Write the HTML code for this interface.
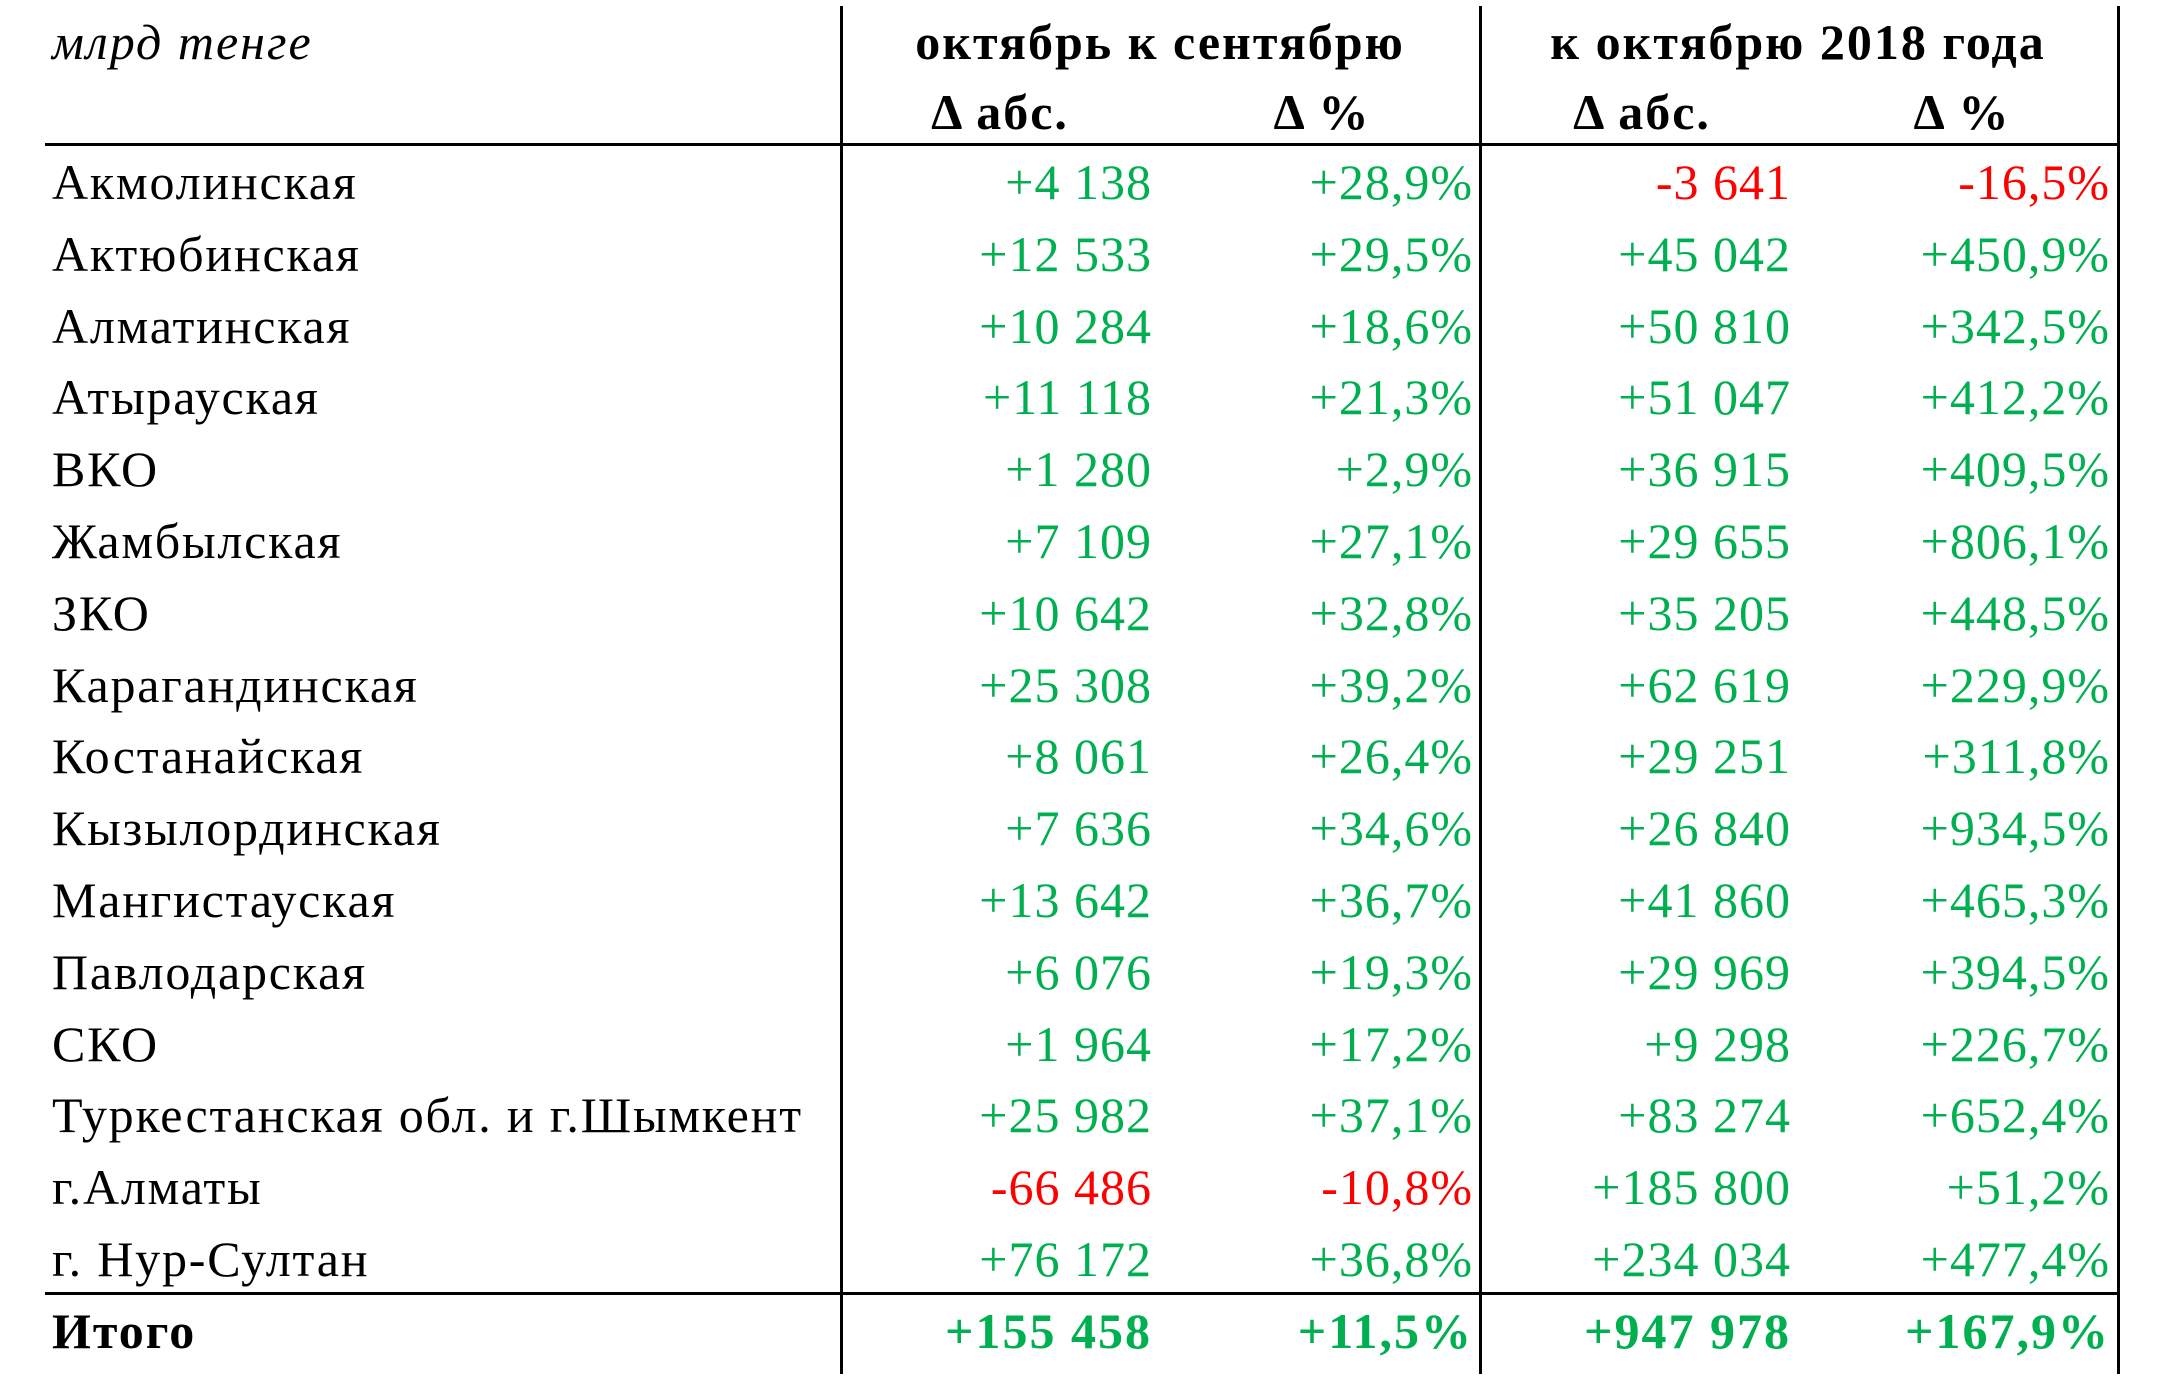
<!DOCTYPE html>
<html><head><meta charset="utf-8"><style>
body{margin:0;width:2160px;height:1385px;background:#fff;position:relative;overflow:hidden;font-family:"Liberation Serif","DejaVu Serif",serif;font-size:50px;color:#000}
.t{position:absolute;white-space:nowrap;line-height:1}
.n{letter-spacing:1px}
.nm{letter-spacing:1.8px}
.r{text-align:right}
.c{text-align:center;transform:translateX(-50%)}
.g{color:#00b050}.rd{color:#ff0000}
.b{font-weight:bold;letter-spacing:2px}
.l{position:absolute;background:#000}
</style></head><body>
<div class="l" style="left:840px;top:6px;width:3px;height:1368px"></div>
<div class="l" style="left:1479px;top:6px;width:3px;height:1368px"></div>
<div class="l" style="left:2117px;top:6px;width:3px;height:1368px"></div>
<div class="l" style="left:45px;top:143px;width:2075px;height:3px"></div>
<div class="l" style="left:45px;top:1292px;width:2075px;height:3px"></div>
<div class="t" style="left:52px;top:17px;font-style:italic;letter-spacing:2px">млрд тенге</div>
<div class="t c b" style="left:1160px;top:17px">октябрь к сентябрю</div>
<div class="t c b" style="left:1798px;top:17px">к октябрю 2018 года</div>
<div class="t c b" style="left:1000px;top:87px">Δ абс.</div>
<div class="t c b" style="left:1322px;top:87px">Δ %</div>
<div class="t c b" style="left:1642px;top:87px">Δ абс.</div>
<div class="t c b" style="left:1962px;top:87px">Δ %</div>
<div id="rows"></div>
<script>
var d=[["Акмолинская","+4 138","+28,9%","-3 641","-16,5%"],["Актюбинская","+12 533","+29,5%","+45 042","+450,9%"],["Алматинская","+10 284","+18,6%","+50 810","+342,5%"],["Атырауская","+11 118","+21,3%","+51 047","+412,2%"],["ВКО","+1 280","+2,9%","+36 915","+409,5%"],["Жамбылская","+7 109","+27,1%","+29 655","+806,1%"],["ЗКО","+10 642","+32,8%","+35 205","+448,5%"],["Карагандинская","+25 308","+39,2%","+62 619","+229,9%"],["Костанайская","+8 061","+26,4%","+29 251","+311,8%"],["Кызылординская","+7 636","+34,6%","+26 840","+934,5%"],["Мангистауская","+13 642","+36,7%","+41 860","+465,3%"],["Павлодарская","+6 076","+19,3%","+29 969","+394,5%"],["СКО","+1 964","+17,2%","+9 298","+226,7%"],["Туркестанская обл. и г.Шымкент","+25 982","+37,1%","+83 274","+652,4%"],["г.Алматы","-66 486","-10,8%","+185 800","+51,2%"],["г. Нур-Султан","+76 172","+36,8%","+234 034","+477,4%"],["Итого","+155 458","+11,5%","+947 978","+167,9%"]];
var R=[1152,1473,1791,2110],h="";
d.forEach(function(r,i){var y=157+i*71.8,b=i==16?" b":" n";
h+='<div class="t'+(i==16?" b":" nm")+'" style="left:52px;top:'+y+'px">'+r[0]+'</div>';
for(var j=1;j<5;j++){var c=r[j][0]=="-"?"rd":"g";h+='<div class="t r '+c+b+'" style="right:'+(2160-R[j-1])+'px;top:'+y+'px">'+r[j]+'</div>';}});
document.getElementById("rows").innerHTML=h;
</script>
</body></html>
